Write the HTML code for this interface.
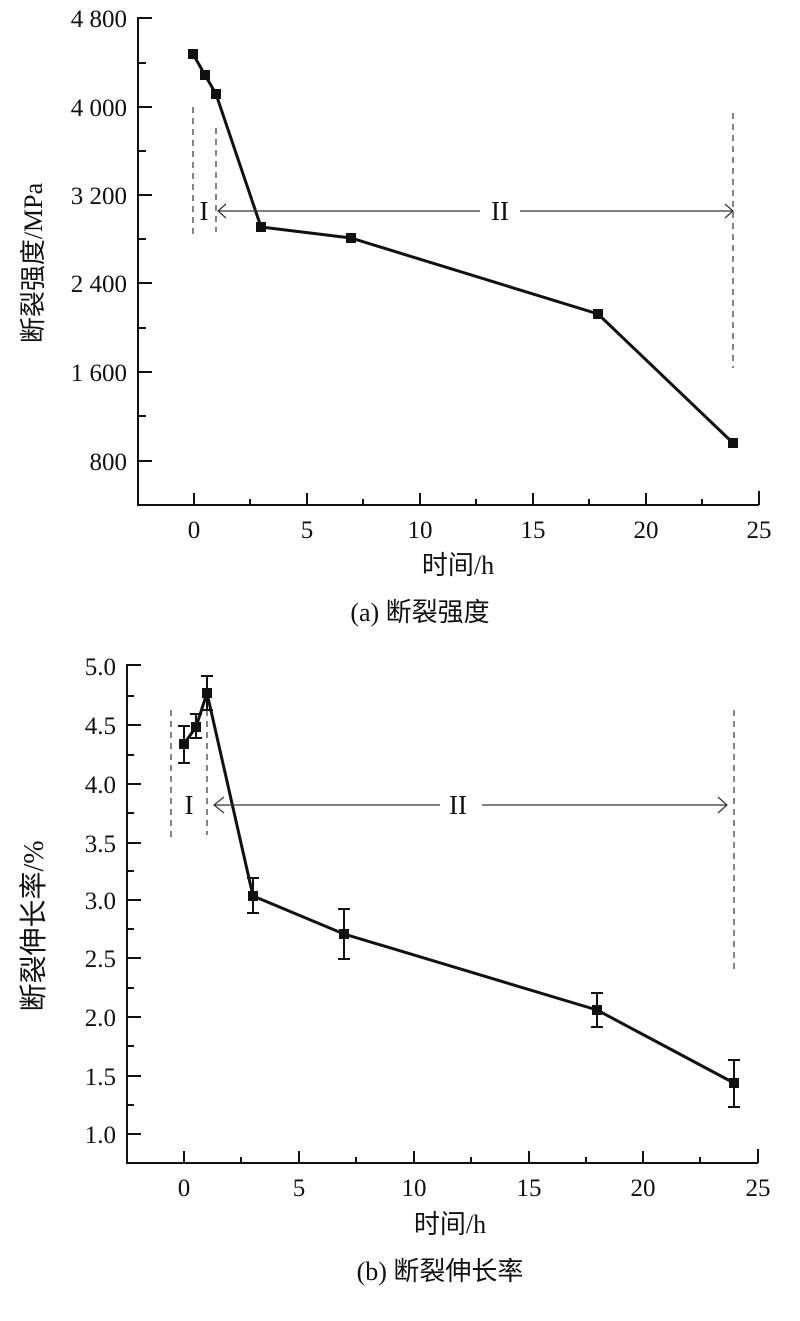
<!DOCTYPE html>
<html><head><meta charset="utf-8"><style>
body{margin:0;background:#fff}
svg text{font-family:"Liberation Serif","Noto Sans CJK SC",serif;fill:#111}
.cj{font-family:"Liberation Serif","Noto Sans CJK SC",sans-serif}
</style></head><body>
<svg width="800" height="1316" viewBox="0 0 800 1316" xmlns="http://www.w3.org/2000/svg">
<g stroke="#111" stroke-width="2" fill="none">
<path d="M152 18H138V505H759"/>
<path d="M138 63H146M138 107H152M138 151H146M138 195H152M138 239H146M138 283H152M138 328H146M138 372H152M138 416H146M138 461H152"/>
<path d="M194 505V493M250 505V499M307 505V493M363 505V499M420 505V493M476 505V499M533 505V493M589 505V499M646 505V493M702 505V499M759 505V491"/>
<polyline stroke-width="3" points="193,54 205,75 216,94 261,227 351,238 598,314 733,443"/>
<path d="M141 665H127V1163H758"/>
<path d="M127 696H134M127 725H141M127 755H134M127 784H141M127 813H134M127 843H141M127 871H134M127 900H141M127 929H134M127 958H141M127 988H134M127 1017H141M127 1046H134M127 1076H141M127 1105H134M127 1134H141"/>
<path d="M184 1163V1151M241 1163V1157M299 1163V1151M356 1163V1157M414 1163V1151M471 1163V1157M529 1163V1151M586 1163V1157M643 1163V1151M700 1163V1157M758 1163V1149"/>
<polyline stroke-width="3" points="184,744 196,727 207,693 253,896 344,934 597,1010 734,1083"/>
<path d="M184 726V763M178 726H190M178 763H190M196 714V738M190 714H202M190 738H202M207 676V710M201 676H213M201 710H213M253 878V913M247 878H259M247 913H259M344 909V959M338 909H350M338 959H350M597 993V1027M591 993H603M591 1027H603M734 1060V1107M728 1060H740M728 1107H740"/>
</g>
<g fill="#111">
<rect x="188" y="49" width="10" height="10"/><rect x="200" y="70" width="10" height="10"/><rect x="211" y="89" width="10" height="10"/><rect x="256" y="222" width="10" height="10"/><rect x="346" y="233" width="10" height="10"/><rect x="593" y="309" width="10" height="10"/><rect x="728" y="438" width="10" height="10"/>
<rect x="179" y="739" width="10" height="10"/><rect x="191" y="722" width="10" height="10"/><rect x="202" y="688" width="10" height="10"/><rect x="248" y="891" width="10" height="10"/><rect x="339" y="929" width="10" height="10"/><rect x="592" y="1005" width="10" height="10"/><rect x="729" y="1078" width="10" height="10"/>
</g>
<g stroke="#333" stroke-width="1.2" fill="none">
<path stroke-dasharray="6,5" d="M193 107V238M216 128V232M733 113V368M171 710V842M207 710V835M734 710V973"/>
<path d="M218 211H480M520 211H733M226 204L218 211L226 218M725 204L733 211L725 218"/>
<path d="M214 805H440M482 805H727M224 797L214 805L224 813M718 797L727 805L718 813"/>
</g>
<g font-size="27">
<text x="204" y="220" text-anchor="middle">I</text>
<text x="500" y="220" text-anchor="middle">II</text>
<text x="189" y="814" text-anchor="middle">I</text>
<text x="458" y="814" text-anchor="middle">II</text>
</g>
<g font-size="25" text-anchor="end">
<text x="127" y="27">4 800</text><text x="127" y="116">4 000</text><text x="127" y="204">3 200</text><text x="127" y="292">2 400</text><text x="127" y="381">1 600</text><text x="127" y="470">800</text>
<text x="116" y="675">5.0</text><text x="116" y="734">4.5</text><text x="116" y="793">4.0</text><text x="116" y="852">3.5</text><text x="116" y="909">3.0</text><text x="116" y="967">2.5</text><text x="116" y="1026">2.0</text><text x="116" y="1085">1.5</text><text x="116" y="1143">1.0</text>
</g>
<g font-size="25" text-anchor="middle">
<text x="194" y="538">0</text><text x="307" y="538">5</text><text x="420" y="538">10</text><text x="533" y="538">15</text><text x="646" y="538">20</text><text x="759" y="538">25</text>
<text x="184" y="1196">0</text><text x="299" y="1196">5</text><text x="414" y="1196">10</text><text x="529" y="1196">15</text><text x="643" y="1196">20</text><text x="758" y="1196">25</text>
</g>
<g font-size="26" text-anchor="middle" class="cj">
<text x="458" y="574">时间/h</text>
<text x="420" y="621">(a)  断裂强度</text>
<text x="450" y="1233">时间/h</text>
<text x="440" y="1280">(b) 断裂伸长率</text>
<text transform="translate(42,263) rotate(-90)">断裂强度/MPa</text>
<text font-size="28" transform="translate(43,926) rotate(-90)">断裂伸长率/%</text>
</g>
</svg>
</body></html>
